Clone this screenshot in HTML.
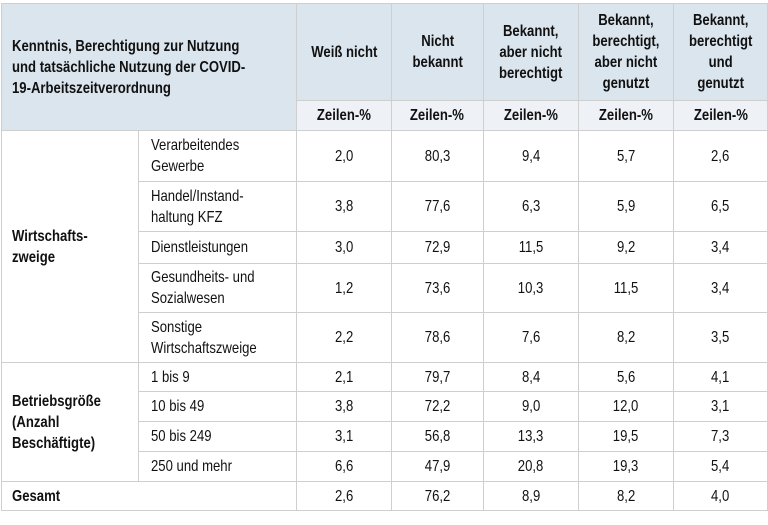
<!DOCTYPE html>
<html><head><meta charset="utf-8"><style>
html,body{margin:0;padding:0;background:#fff;width:768px;height:525px;overflow:hidden}
table{position:absolute;left:1px;top:3px;border-collapse:collapse;table-layout:fixed;font-family:"Liberation Sans Narrow","Liberation Sans",sans-serif;font-size:16px;color:#111;border:1.5px solid #b4b4b4}
td,th{border:1px solid #cfcfcf;padding:0;vertical-align:middle;line-height:21px;white-space:nowrap}
th{background:#dbe5ee;font-weight:bold;text-align:center}
th.l{text-align:left;padding-left:10px}
th.z{background:#eef2f6}
td{text-align:center}
td.lab{text-align:left;padding-left:12px}
td.grp{text-align:left;padding-left:10px;font-weight:bold}
span.s{display:inline-block;transform:scaleX(.82);transform-origin:center}
th.l span.s,td.lab span.s,td.grp span.s{transform-origin:left center}
</style></head><body>
<table>
<colgroup><col style="width:129px"><col style="width:149px"><col style="width:97px"><col style="width:97px"><col style="width:98px"><col style="width:98px"><col style="width:97px"></colgroup>
<tr style="height:97px">
<th class="l" colspan="2" rowspan="2"><span class="s">Kenntnis, Berechtigung zur Nutzung<br>und tatsächliche Nutzung der COVID-<br>19-Arbeitszeitverordnung</span></th>
<th><span class="s">Weiß nicht</span></th>
<th><span class="s">Nicht<br>bekannt</span></th>
<th><span class="s">Bekannt,<br>aber nicht<br>berechtigt</span></th>
<th><span class="s">Bekannt,<br>berechtigt,<br>aber nicht<br>genutzt</span></th>
<th><span class="s">Bekannt,<br>berechtigt<br>und<br>genutzt</span></th>
</tr>
<tr style="height:30px">
<th class="z"><span class="s">Zeilen-%</span></th><th class="z"><span class="s">Zeilen-%</span></th><th class="z"><span class="s">Zeilen-%</span></th><th class="z"><span class="s">Zeilen-%</span></th><th class="z"><span class="s">Zeilen-%</span></th>
</tr>
<tr style="height:51px"><td class="grp" rowspan="5"><span class="s">Wirtschafts-<br>zweige</span></td><td class="lab"><span class="s">Verarbeitendes<br>Gewerbe</span></td><td><span class="s">2,0</span></td><td><span class="s">80,3</span></td><td><span class="s">9,4</span></td><td><span class="s">5,7</span></td><td><span class="s">2,6</span></td></tr>
<tr style="height:50px"><td class="lab"><span class="s">Handel/Instand-<br>haltung KFZ</span></td><td><span class="s">3,8</span></td><td><span class="s">77,6</span></td><td><span class="s">6,3</span></td><td><span class="s">5,9</span></td><td><span class="s">6,5</span></td></tr>
<tr style="height:32px"><td class="lab"><span class="s">Dienstleistungen</span></td><td><span class="s">3,0</span></td><td><span class="s">72,9</span></td><td><span class="s">11,5</span></td><td><span class="s">9,2</span></td><td><span class="s">3,4</span></td></tr>
<tr style="height:49px"><td class="lab"><span class="s">Gesundheits- und<br>Sozialwesen</span></td><td><span class="s">1,2</span></td><td><span class="s">73,6</span></td><td><span class="s">10,3</span></td><td><span class="s">11,5</span></td><td><span class="s">3,4</span></td></tr>
<tr style="height:50px"><td class="lab"><span class="s">Sonstige<br>Wirtschaftszweige</span></td><td><span class="s">2,2</span></td><td><span class="s">78,6</span></td><td><span class="s">7,6</span></td><td><span class="s">8,2</span></td><td><span class="s">3,5</span></td></tr>
<tr style="height:29px"><td class="grp" rowspan="4"><span class="s">Betriebsgröße<br>(Anzahl<br>Beschäftigte)</span></td><td class="lab"><span class="s">1 bis 9</span></td><td><span class="s">2,1</span></td><td><span class="s">79,7</span></td><td><span class="s">8,4</span></td><td><span class="s">5,6</span></td><td><span class="s">4,1</span></td></tr>
<tr style="height:30px"><td class="lab"><span class="s">10 bis 49</span></td><td><span class="s">3,8</span></td><td><span class="s">72,2</span></td><td><span class="s">9,0</span></td><td><span class="s">12,0</span></td><td><span class="s">3,1</span></td></tr>
<tr style="height:30px"><td class="lab"><span class="s">50 bis 249</span></td><td><span class="s">3,1</span></td><td><span class="s">56,8</span></td><td><span class="s">13,3</span></td><td><span class="s">19,5</span></td><td><span class="s">7,3</span></td></tr>
<tr style="height:30px"><td class="lab"><span class="s">250 und mehr</span></td><td><span class="s">6,6</span></td><td><span class="s">47,9</span></td><td><span class="s">20,8</span></td><td><span class="s">19,3</span></td><td><span class="s">5,4</span></td></tr>
<tr style="height:29px"><td class="grp" colspan="2"><span class="s">Gesamt</span></td><td><span class="s">2,6</span></td><td><span class="s">76,2</span></td><td><span class="s">8,9</span></td><td><span class="s">8,2</span></td><td><span class="s">4,0</span></td></tr>
</table>
</body></html>
